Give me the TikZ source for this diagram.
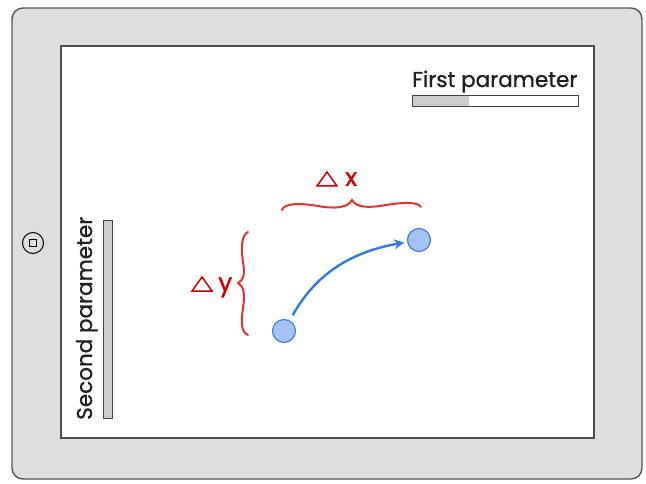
\documentclass[tikz,border=0pt]{standalone}
\usepackage{fontspec}
\setmainfont{Poppins}
\newfontfamily\sketchfont{Poppins}[FakeBold=0.9]
\usetikzlibrary{arrows.meta}
\definecolor{frameline}{HTML}{5A5555}
\definecolor{framefill}{HTML}{DEDEDE}
\definecolor{barfill}{HTML}{CCCCCC}
\definecolor{markred}{HTML}{CC0000}
\definecolor{bracered}{HTML}{E8312F}
\definecolor{dotfill}{HTML}{A4C2F4}
\definecolor{dotline}{HTML}{3C78D8}
\definecolor{arrowblue}{HTML}{2F7BE0}
\begin{document}
\begin{tikzpicture}[x=1pt,y=-1pt,
  tablet/.style={draw=frameline,fill=framefill,line width=1.4pt,rounded corners=11pt},
  screen/.style={draw=frameline!90!black,fill=white,line width=1.4pt},
  homebtn/.style={circle,draw=black,line width=1pt,minimum size=21pt,inner sep=0pt},
  homesq/.style={draw=black,line width=0.8pt,minimum size=7pt,inner sep=0pt},
  label/.style={inner sep=0pt,font=\sketchfont\fontsize{21.5}{24}\selectfont,text=black!88},
  slider/.style={draw=black!75,line width=1pt},
  delta/.style={inner sep=0pt,font=\sketchfont\fontsize{25}{27}\selectfont,text=markred},
  tri/.style={draw=markred,line width=1.5pt,line join=miter},
  curly/.style={draw=bracered,line width=2pt,line cap=round},
  dot/.style={circle,draw=dotline,fill=dotfill,line width=1.1pt,minimum size=23pt,inner sep=0pt},
  move/.style={draw=arrowblue,line width=2.4pt,-{Stealth[length=10pt,width=10pt]}},
]
\useasboundingbox (0,0) rectangle (646,484);
\fill[white] (0,0) rectangle (646,484);

% device body and screen
\draw[tablet] (12,8) rectangle (642,479);
\draw[screen] (61,46) rectangle (594,438);
\node[homebtn] (home) at (33,243) {};
\node[homesq] (homekey) at (home) {};

% first parameter: label and horizontal slider
\node[label,anchor=base west] (firstlbl) at (412,87) {First parameter};
\fill[barfill] (412,96) rectangle (469,107);
\draw[slider] (412,96) rectangle (578,107);

% second parameter: rotated label and vertical slider
\node[label,anchor=base west,rotate=90] (secondlbl) at (92,420) {Second parameter};
\draw[slider,fill=barfill] (103,221) rectangle (112,418);

% delta x
\node[delta,anchor=base west] (dx) at (345,186) {x};
\draw[tri] (317,186) -- (337,186) -- (327,172) -- cycle;
\draw[curly] (282,210) .. controls (284,203) and (300,203) .. (318,206)
  .. controls (334,209) and (348,208) .. (352,200)
  .. controls (356,208) and (370,208) .. (386,205)
  .. controls (405,202) and (418,202) .. (421,207);

% delta y
\node[delta,anchor=base west] (dy) at (218,291) {y};
\draw[tri] (192,291) -- (212,291) -- (202,277) -- cycle;
\draw[curly] (248,232) .. controls (241,235) and (241,250) .. (243,262)
  .. controls (245,274) and (244,280) .. (238,283)
  .. controls (244,286) and (245,295) .. (243,308)
  .. controls (241,322) and (241,332) .. (248,335);

% the two points and the move between them
\node[dot] (start) at (284,331) {};
\node[dot] (finish) at (419,240) {};
\draw[move,shorten <=6pt,shorten >=3pt] (start) .. controls (315,275) and (350,252) .. (finish);
\end{tikzpicture}
\end{document}
